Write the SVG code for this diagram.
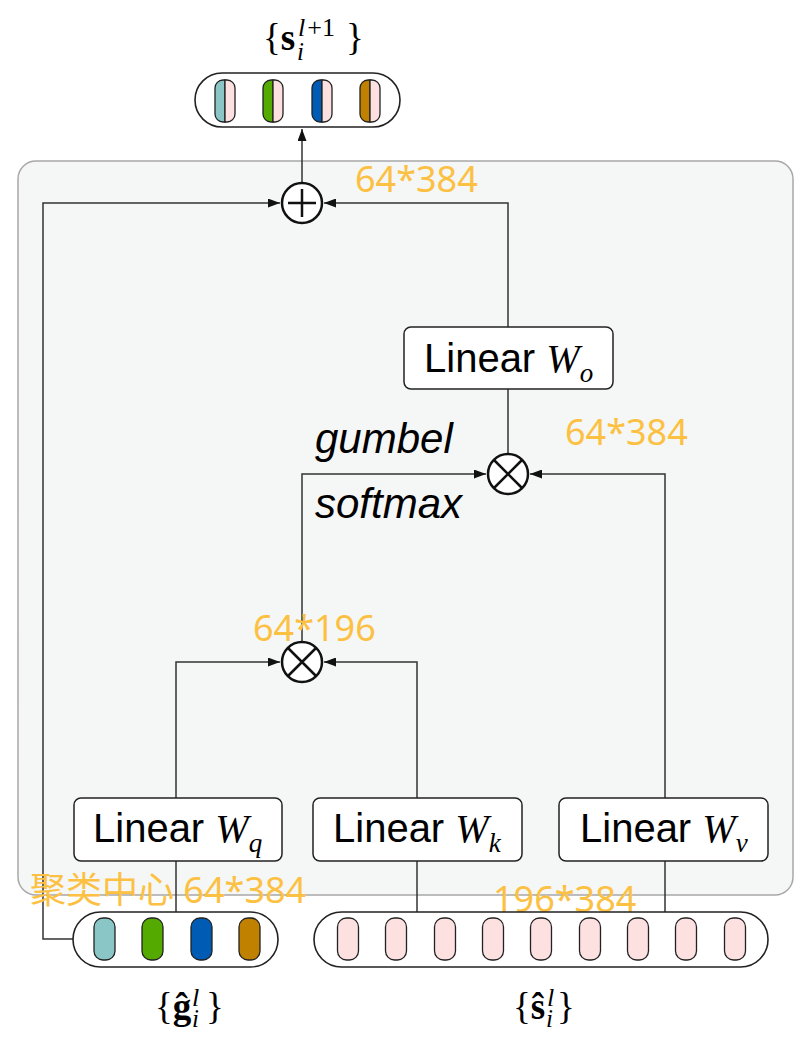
<svg xmlns="http://www.w3.org/2000/svg" width="806" height="1051" viewBox="0 0 806 1051">
<defs>
<style>
.box{fill:#fff;stroke:#222;stroke-width:1.5}
.ln{fill:none;stroke:#333;stroke-width:1.5}
.op{fill:#fff;stroke:#111;stroke-width:2.5}
.opl{stroke:#111;stroke-width:2.5;fill:none}
.pill{fill:#fff;stroke:#222;stroke-width:1.6}
.cap{stroke:#222;stroke-width:1.3}
.dim{font-family:'Noto Sans','Noto Sans CJK SC',sans-serif;font-size:36px;fill:#fcc043}
.lin{font-family:'Liberation Sans',Arial,sans-serif;font-size:40px;fill:#000}
.w{font-family:'Liberation Serif','Times New Roman',serif;font-style:italic}
.it{font-family:'Liberation Sans',Arial,sans-serif;font-style:italic;font-size:42px;fill:#000}
.math{font-family:'Liberation Serif','Times New Roman',serif;fill:#000}
</style>
<marker id="ah" viewBox="0 0 12 9" refX="12" refY="4.5" markerWidth="12" markerHeight="9" markerUnits="userSpaceOnUse" orient="auto"><path d="M0,0 L12,4.5 L0,9 z" fill="#111"/></marker>
</defs>
<rect width="806" height="1051" fill="#fff"/>
<g id="panel"><rect x="18" y="161" width="775" height="734" rx="18" fill="#f5f7f6" stroke="#a8a8a8" stroke-width="1.5"/></g>

<g id="connectors">
<path class="ln" d="M75,939 H43 V203 H280" marker-end="url(#ah)"/>
<path class="ln" d="M508,327 V203 H324" marker-end="url(#ah)"/>
<path class="ln" d="M302,182 V129" marker-end="url(#ah)"/>
<path class="ln" d="M508,389 V453"/>
<path class="ln" d="M302,641 V474 H486" marker-end="url(#ah)"/>
<path class="ln" d="M665,798 V474 H530" marker-end="url(#ah)"/>
<path class="ln" d="M176,798 V662 H280" marker-end="url(#ah)"/>
<path class="ln" d="M417,798 V662 H324" marker-end="url(#ah)"/>
<path class="ln" d="M176,861 V912"/>
<path class="ln" d="M417,861 V912"/>
<path class="ln" d="M665,861 V912"/>
</g>

<g id="add">
<circle class="op" cx="302" cy="203" r="20"/>
<path class="opl" d="M288,203 H316 M302,189 V217"/>
</g>
<g id="mul2">
<circle class="op" cx="508" cy="474" r="20"/>
<path class="opl" d="M494,460 L522,488 M522,460 L494,488"/>
</g>
<g id="mul1">
<circle class="op" cx="302" cy="662" r="20"/>
<path class="opl" d="M288,648 L316,676 M316,648 L288,676"/>
</g>

<g id="linear-o">
<rect class="box" x="404" y="327" width="209" height="62" rx="7"/>
<text class="lin" x="424" y="372">Linear <tspan class="w">W</tspan><tspan class="w" font-size="27" dy="10">o</tspan></text>
</g>
<g id="linear-q">
<rect class="box" x="74" y="798" width="208" height="63" rx="7"/>
<text class="lin" x="93" y="842">Linear <tspan class="w">W</tspan><tspan class="w" font-size="27" dy="10">q</tspan></text>
</g>
<g id="linear-k">
<rect class="box" x="313" y="798" width="209" height="63" rx="7"/>
<text class="lin" x="333" y="842">Linear <tspan class="w">W</tspan><tspan class="w" font-size="27" dy="10">k</tspan></text>
</g>
<g id="linear-v">
<rect class="box" x="559" y="798" width="209" height="63" rx="7"/>
<text class="lin" x="580" y="842">Linear <tspan class="w">W</tspan><tspan class="w" font-size="27" dy="10">v</tspan></text>
</g>

<g id="gumbel-label">
<text class="it" x="315" y="453">gumbel</text>
<text class="it" x="315" y="518">softmax</text>
</g>

<g id="dims">
<text class="dim" x="355" y="192">64*384</text>
<text class="dim" x="565" y="445">64*384</text>
<text class="dim" x="253" y="641">64*196</text>
<text class="dim" x="493" y="912">196*384</text>
<text class="dim" x="30" y="903" font-size="37">聚类中心 64*384</text>
</g>

<g id="output">
<rect class="pill" x="195" y="73" width="205" height="54" rx="27"/>
<g class="cap">
<path d="M225,80 H223 A8,8 0 0 0 215,88 V114 A8,8 0 0 0 223,122 H225 Z" fill="#8bc6c6"/>
<path d="M225,80 H227 A8,8 0 0 1 235,88 V114 A8,8 0 0 1 227,122 H225 Z" fill="#fde0e0"/>
<path d="M273,80 H271 A8,8 0 0 0 263,88 V114 A8,8 0 0 0 271,122 H273 Z" fill="#55aa00"/>
<path d="M273,80 H275 A8,8 0 0 1 283,88 V114 A8,8 0 0 1 275,122 H273 Z" fill="#fde0e0"/>
<path d="M322,80 H320 A8,8 0 0 0 312,88 V114 A8,8 0 0 0 320,122 H322 Z" fill="#005bb5"/>
<path d="M322,80 H324 A8,8 0 0 1 332,88 V114 A8,8 0 0 1 324,122 H322 Z" fill="#fde0e0"/>
<path d="M370,80 H368 A8,8 0 0 0 360,88 V114 A8,8 0 0 0 368,122 H370 Z" fill="#c08000"/>
<path d="M370,80 H372 A8,8 0 0 1 380,88 V114 A8,8 0 0 1 372,122 H370 Z" fill="#fde0e0"/>
</g>
<text class="math" x="263" y="50" font-size="37">{<tspan font-weight="bold">s</tspan><tspan x="298" y="36" font-size="26" font-style="italic">l</tspan><tspan font-size="26" dx="2">+1</tspan><tspan x="297" y="60" font-size="25" font-style="italic">i</tspan><tspan x="346" y="50">}</tspan></text>
</g>

<g id="centers">
<rect class="pill" x="73" y="912" width="205" height="55" rx="27.5"/>
<g class="cap">
<rect x="94" y="918" width="21" height="42" rx="9" fill="#8bc6c6"/>
<rect x="142" y="918" width="21" height="42" rx="9" fill="#55aa00"/>
<rect x="191" y="918" width="21" height="42" rx="9" fill="#005bb5"/>
<rect x="239" y="918" width="21" height="42" rx="9" fill="#c08000"/>
</g>
<text class="math" x="155" y="1019" font-size="37">{<tspan font-weight="bold">ĝ</tspan><tspan x="192" y="1006" font-size="26" font-style="italic">l</tspan><tspan x="192" y="1027" font-size="25" font-style="italic">i</tspan><tspan x="206" y="1019">}</tspan></text>
</g>

<g id="tokens">
<rect class="pill" x="314" y="912" width="454" height="55" rx="27.5"/>
<g class="cap" fill="#fde0e0">
<rect x="337.5" y="918" width="21" height="42" rx="9"/>
<rect x="385.5" y="918" width="21" height="42" rx="9"/>
<rect x="434.5" y="918" width="21" height="42" rx="9"/>
<rect x="482.5" y="918" width="21" height="42" rx="9"/>
<rect x="530.5" y="918" width="21" height="42" rx="9"/>
<rect x="579.5" y="918" width="21" height="42" rx="9"/>
<rect x="627.5" y="918" width="21" height="42" rx="9"/>
<rect x="675.5" y="918" width="21" height="42" rx="9"/>
<rect x="724.5" y="918" width="21" height="42" rx="9"/>
</g>
<text class="math" x="513" y="1019" font-size="37">{<tspan font-weight="bold">ŝ</tspan><tspan x="547" y="1006" font-size="26" font-style="italic">l</tspan><tspan x="546" y="1027" font-size="25" font-style="italic">i</tspan><tspan x="557" y="1019">}</tspan></text>
</g>
</svg>
